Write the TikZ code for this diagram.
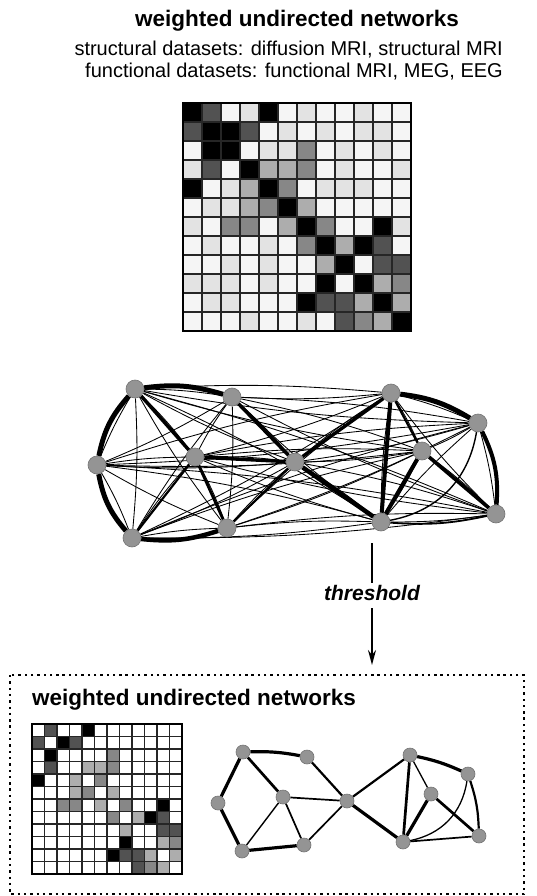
\documentclass[tikz,border=0pt]{standalone}
\usepackage{fontspec}
\setmainfont{Liberation Sans}
\usetikzlibrary{arrows.meta, backgrounds}
\colorlet{node gray}{black!42}
\colorlet{top0}{black!4}
\colorlet{top1}{black!11}
\colorlet{top2}{black!32}
\colorlet{top3}{black!47}
\colorlet{top4}{black!68}
\colorlet{top5}{black}
\colorlet{low0}{white}
\colorlet{low1}{black!11}
\colorlet{low2}{black!32}
\colorlet{low3}{black!47}
\colorlet{low4}{black!68}
\colorlet{low5}{black}
\tikzset{vertex/.style={circle, fill=node gray, draw=black!55, line width=0.6pt, inner sep=0pt, minimum size=18pt}}
\tikzset{smallvertex/.style={vertex, minimum size=14pt}}
\tikzset{faint/.style={line width=0.85pt}}
\tikzset{heading/.style={font=\fontsize{22.5}{27}\selectfont\bfseries}}
\tikzset{caption/.style={font=\fontsize{20}{24}\selectfont, anchor=east, inner sep=0pt}}
\tikzset{frame/.style={line width=2.3pt, dash pattern=on 2.4pt off 3.9pt}}

\begin{document}
\begin{tikzpicture}[x=1pt, y=-1pt]
    \useasboundingbox (0,0) rectangle (537,896);
    \node[heading] (title) at (297,21) {weighted undirected networks};
    \node[caption] (struct) at (503,50) {structural datasets: diffusion MRI, structural MRI};
    \node[caption] (func) at (503,72) {functional datasets: functional MRI, MEG, EEG};

    \begin{scope}[shift={(183,103)}]
        \foreach \row [count=\r from 0] in {{5,4,0,1,5,0,1,0,0,1,0,0},{4,5,5,4,0,1,0,1,0,1,1,0},{0,5,5,0,1,1,3,0,1,0,1,0},{1,4,0,5,2,2,3,0,1,0,0,1},{5,0,1,2,5,3,0,1,1,1,0,0},{0,1,1,2,3,5,2,0,0,0,0,0},{1,0,3,3,0,2,5,3,0,0,5,1},{0,1,0,0,1,0,3,5,2,5,4,0},{0,0,1,0,1,0,0,2,5,0,4,4},{1,1,1,0,1,0,0,5,0,5,2,3},{0,1,1,0,0,0,5,4,4,2,5,2},{0,0,0,1,0,0,1,0,4,3,2,5}}
            \foreach \v [count=\c from 0] in \row
                \fill[top\v] (\c*19,\r*19) rectangle ++(19,19);
        \foreach \k in {0,...,12} {
            \draw[line width=2pt, black!85] (\k*19,0) -- (\k*19,228);
            \draw[line width=2pt, black!85] (0,\k*19) -- (228,\k*19);
        }
        \draw[line width=2.6pt] (0,0) rectangle (228,228);
    \end{scope}

    \node[vertex] (t1) at (135,389) {};
    \node[vertex] (t2) at (232,397) {};
    \node[vertex] (t3) at (97,465) {};
    \node[vertex] (t4) at (195,457) {};
    \node[vertex] (t5) at (295,462) {};
    \node[vertex] (t6) at (132,538) {};
    \node[vertex] (t7) at (227,528) {};
    \node[vertex] (t8) at (391,393) {};
    \node[vertex] (t9) at (422,451) {};
    \node[vertex] (t10) at (381,522) {};
    \node[vertex] (t11) at (478,423) {};
    \node[vertex] (t12) at (496,514) {};
    \begin{scope}[on background layer]
        \foreach \i in {1,...,12}
            \foreach \j in {1,...,12} {
                \ifnum\j>\i
                    \pgfmathtruncatemacro\bnd{8*mod(\i+\j,2)-4}
                    \draw[faint] (t\i) to[bend left=\bnd] (t\j);
                \fi
            }
        \foreach \a/\b/\w/\bnd in {1/2/5/12, 3/1/5/15, 6/3/5/15, 7/6/4.5/12, 1/4/3.4/0, 2/5/3.5/0, 4/5/3.4/0, 4/6/2.2/0, 4/7/2.8/0, 7/5/2.2/0, 5/8/3.4/0, 5/10/4.5/0, 8/10/4/0, 8/11/5/12, 11/12/4/15, 9/10/4/0, 9/12/3.6/0, 8/9/2.2/0, 12/10/1.8/8, 10/11/1.4/-35}
            \draw[line width=\w pt] (t\a) to[bend left=\bnd] (t\b);
    \end{scope}

    \node[font=\fontsize{21}{25}\selectfont\bfseries\itshape, inner sep=2.5pt] (thr) at (372,593) {threshold};
    \coordinate (tstart) at (372,543);
    \coordinate (tend) at (372,665);
    \draw[line width=1.7pt] (tstart) -- (thr.north);
    \draw[line width=1.7pt, -{Stealth[length=15pt, width=8pt]}, shorten <=5pt] (thr.south) -- (tend);

    \draw[frame] (10,675) rectangle (524,894);
    \node[heading, anchor=west, inner sep=0pt] (subtitle) at (32,700) {weighted undirected networks};

    \begin{scope}[shift={(32,724)}]
        \foreach \row [count=\r from 0] in {{0,4,0,0,5,0,0,0,0,0,0,0},{4,0,5,4,0,0,0,0,0,0,0,0},{0,5,0,0,0,0,3,0,0,0,0,0},{0,4,0,0,2,2,3,0,0,0,0,0},{5,0,0,2,0,3,0,0,0,0,0,0},{0,0,0,2,3,0,2,0,0,0,0,0},{0,0,3,3,0,2,0,3,0,0,5,0},{0,0,0,0,0,0,3,0,2,5,4,0},{0,0,0,0,0,0,0,2,0,0,4,4},{0,0,0,0,0,0,0,5,0,0,2,3},{0,0,0,0,0,0,5,4,4,2,0,2},{0,0,0,0,0,0,0,0,4,3,2,0}}
            \foreach \v [count=\c from 0] in \row
                \fill[low\v] (\c*12.5,\r*12.5) rectangle ++(12.5,12.5);
        \foreach \k in {0,...,12} {
            \draw[line width=1.4pt, black!85] (\k*12.5,0) -- (\k*12.5,150);
            \draw[line width=1.4pt, black!85] (0,\k*12.5) -- (150,\k*12.5);
        }
        \draw[line width=1.9pt] (0,0) rectangle (150,150);
    \end{scope}

    \node[smallvertex] (s1) at (243,752) {};
    \node[smallvertex] (s2) at (307,757) {};
    \node[smallvertex] (s3) at (218,803) {};
    \node[smallvertex] (s4) at (283,797) {};
    \node[smallvertex] (s5) at (347,801) {};
    \node[smallvertex] (s6) at (242,851) {};
    \node[smallvertex] (s7) at (304,845) {};
    \node[smallvertex] (s8) at (410,755) {};
    \node[smallvertex] (s9) at (431,794) {};
    \node[smallvertex] (s10) at (403,842) {};
    \node[smallvertex] (s11) at (468,774) {};
    \node[smallvertex] (s12) at (479,836) {};
    \begin{scope}[on background layer]
        \foreach \a/\b/\w/\bnd in {1/2/3.2/6, 3/1/3.2/0, 1/4/2.7/0, 2/5/2.2/0, 6/3/3.2/0, 4/5/1.7/0, 4/6/1.4/0, 4/7/1.7/0, 7/6/3.2/0, 7/5/1.7/0, 5/8/2.2/0, 5/10/3.2/0, 8/11/3.2/6, 8/10/2.7/0, 8/9/1.3/0, 9/10/3.2/0, 9/12/2.7/0, 11/12/2.2/8, 12/10/1.7/0, 10/11/1.3/-35}
            \draw[line width=\w pt] (s\a) to[bend left=\bnd] (s\b);
    \end{scope}
\end{tikzpicture}
\end{document}
